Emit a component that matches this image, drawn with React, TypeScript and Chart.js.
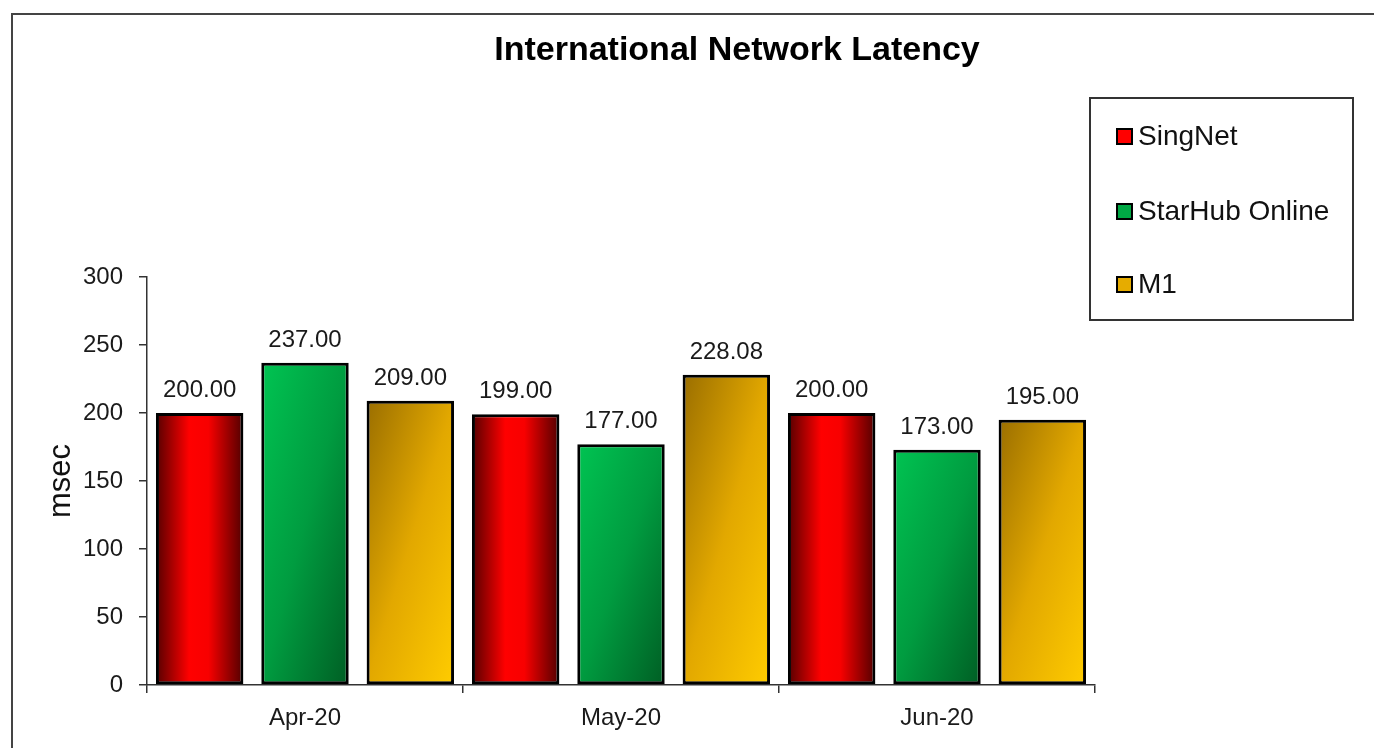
import React, { useEffect, useRef } from "react";
import { Chart, registerables } from "chart.js";

Chart.register(...registerables);

const categories = ["Apr-20", "May-20", "Jun-20"];
const seriesNames = ["SingNet", "StarHub Online", "M1"];
const singNet = [200, 199, 200];
const starHub = [237, 177, 173];
const m1 = [209, 228.08, 195];
const yMin = 0;
const yMax = 300;
const yStep = 50;
const titleText = "International Network Latency";
const yAxisTitle = "msec";

const FONT = "'Liberation Sans', Arial, Helvetica, sans-serif";
const legendSwatches = ["#ff0000", "#00a844", "#e6ac00"];

function makeFill(ctx: CanvasRenderingContext2D, dsIndex: number, left: number, top: number, right: number, bottom: number) {
  const w = Math.max(1, right - left);
  const h = Math.max(1, bottom - top);
  if (dsIndex === 0) {
    const g = ctx.createLinearGradient(left, 0, right, 0);
    g.addColorStop(0, "#560000");
    g.addColorStop(0.38, "#ff0000");
    g.addColorStop(0.6, "#f80000");
    g.addColorStop(1, "#520000");
    return g;
  }
  const gx = 1 / (2 * w);
  const gy = 1 / (2 * h);
  const n = gx * gx + gy * gy;
  const g = ctx.createLinearGradient(left, top, left + gx / n, top + gy / n);
  if (dsIndex === 1) {
    g.addColorStop(0, "#00c452");
    g.addColorStop(0.5, "#009c40");
    g.addColorStop(1, "#005e24");
  } else {
    g.addColorStop(0, "#9a6e00");
    g.addColorStop(0.5, "#e2a800");
    g.addColorStop(1, "#ffcc00");
  }
  return g;
}

const gradientPlugin = {
  id: "gradFill",
  beforeDatasetsDraw(chart: any) {
    const ctx = chart.ctx;
    chart.data.datasets.forEach((_: any, di: number) => {
      const meta = chart.getDatasetMeta(di);
      meta.data.forEach((el: any) => {
        const left = el.x - el.width / 2;
        const right = el.x + el.width / 2;
        const top = Math.min(el.y, el.base);
        const bottom = Math.max(el.y, el.base);
        el.options = Object.assign({}, el.options, {
          backgroundColor: makeFill(ctx, di, left, top, right, bottom),
        });
      });
    });
  },
};

const labelsPlugin = {
  id: "valueLabels",
  afterDatasetsDraw(chart: any) {
    const ctx = chart.ctx;
    ctx.save();
    ctx.font = `24px ${FONT}`;
    ctx.fillStyle = "#1a1a1a";
    ctx.textAlign = "center";
    ctx.textBaseline = "alphabetic";
    chart.data.datasets.forEach((ds: any, di: number) => {
      const meta = chart.getDatasetMeta(di);
      meta.data.forEach((el: any, i: number) => {
        const v = ds.data[i];
        ctx.fillText(Number(v).toFixed(2), el.x, el.y - 16);
      });
    });
    ctx.restore();
  },
};

const decorPlugin = {
  id: "decor",
  afterDraw(chart: any) {
    const ctx = chart.ctx;
    ctx.save();
    // outer frame
    ctx.strokeStyle = "#444";
    ctx.lineWidth = 2;
    ctx.strokeRect(12, 14, 1420, 800);
    // title
    ctx.fillStyle = "#000";
    ctx.font = `bold 34px ${FONT}`;
    ctx.textAlign = "center";
    ctx.textBaseline = "alphabetic";
    ctx.fillText(titleText, 737, 60);
    // y axis title
    const ca = chart.chartArea;
    ctx.save();
    ctx.translate(61, (ca.top + ca.bottom) / 2);
    ctx.rotate(-Math.PI / 2);
    ctx.font = `31px ${FONT}`;
    ctx.textAlign = "center";
    ctx.textBaseline = "middle";
    ctx.fillStyle = "#111";
    ctx.fillText(yAxisTitle, 0, 0);
    ctx.restore();
    // legend
    ctx.strokeStyle = "#333";
    ctx.lineWidth = 2;
    ctx.strokeRect(1090, 98, 263, 222);
    const ys = [136, 211, 284];
    seriesNames.forEach((name, i) => {
      ctx.fillStyle = legendSwatches[i];
      ctx.fillRect(1117, ys[i] - 7, 15, 15);
      ctx.strokeStyle = "#000";
      ctx.lineWidth = 2;
      ctx.strokeRect(1117, ys[i] - 7, 15, 15);
      ctx.fillStyle = "#111";
      ctx.font = `28px ${FONT}`;
      ctx.textAlign = "left";
      ctx.textBaseline = "middle";
      ctx.fillText(name, 1138, ys[i] + 1);
    });
    ctx.restore();
  },
};

export default function App() {
  const ref = useRef<HTMLCanvasElement | null>(null);
  useEffect(() => {
    if (!ref.current) return;
    const seriesData = [singNet, starHub, m1];
    const chart = new Chart(ref.current, {
      type: "bar",
      data: {
        labels: categories,
        datasets: seriesNames.map((name, i) => ({
          label: name,
          data: seriesData[i],
          backgroundColor: legendSwatches[i],
          borderColor: "#000",
          borderWidth: 3,
          borderSkipped: false,
          barPercentage: 0.83,
          categoryPercentage: 1.0,
        })),
      },
      options: {
        responsive: false,
        animation: false,
        layout: { padding: { top: 277, right: 279, bottom: 0, left: 0 } },
        plugins: {
          legend: { display: false },
          title: { display: false },
          tooltip: { enabled: false },
        },
        scales: {
          x: {
            afterFit: (s: any) => {
              s.height = 63;
            },
            grid: {
              display: true,
              drawOnChartArea: false,
              drawTicks: true,
              tickLength: 8,
              offset: true,
              color: "#333",
              lineWidth: 1.5,
            },
            border: { display: true, color: "#333", width: 1.5 },
            ticks: {
              color: "#1a1a1a",
              font: { family: FONT, size: 24 },
              padding: 11,
              maxRotation: 0,
            },
          },
          y: {
            min: yMin,
            max: yMax,
            afterFit: (s: any) => {
              s.width = 147;
            },
            grid: {
              display: true,
              drawOnChartArea: false,
              drawTicks: true,
              tickLength: 8,
              color: "#333",
              lineWidth: 1.5,
            },
            border: { display: true, color: "#333", width: 1.5 },
            ticks: {
              stepSize: yStep,
              color: "#1a1a1a",
              font: { family: FONT, size: 24 },
              padding: 16,
            },
          },
        },
      },
      plugins: [gradientPlugin, labelsPlugin, decorPlugin],
    });
    return () => chart.destroy();
  }, []);
  return (
    <div style={{ position: "fixed", left: 0, top: 0, width: 1374, height: 748, background: "#fff" }}>
      <canvas ref={ref} width={1374} height={748} style={{ display: "block" }} />
    </div>
  );
}
